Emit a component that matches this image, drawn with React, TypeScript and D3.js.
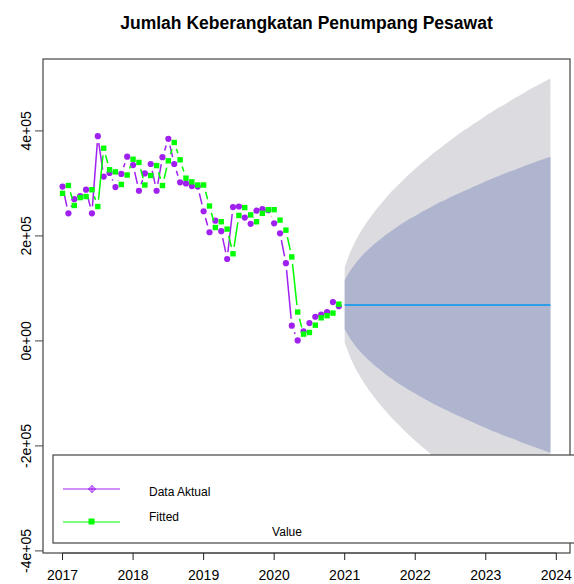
import React from "react";
import * as d3 from "d3";

// Monthly data, Jan 2017 - Dec 2020 (passengers)
const actual = [
  294000, 243000, 270000, 276000, 288000, 243000, 390000, 313000, 320000, 293000, 318000, 351000,
  335000, 286000, 319000, 337000, 286000, 350000, 385000, 337000, 302000, 300000, 295000, 294000,
  247000, 207000, 229000, 209000, 156000, 255000, 256000, 235000, 223000, 248000, 251000, 249000,
  224000, 205000, 148000, 29000, 1000, 18000, 34000, 46000, 50000, 55000, 74000, 66000,
];

const fitted = [
  281000, 296000, 258000, 273000, 275000, 288000, 256000, 367000, 326000, 322000, 298000, 316000,
  346000, 340000, 297000, 315000, 334000, 296000, 343000, 378000, 345000, 310000, 303000, 297000,
  297000, 257000, 216000, 227000, 213000, 166000, 239000, 254000, 240000, 227000, 243000, 250000,
  250000, 230000, 211000, 160000, 55000, 13000, 16000, 30000, 44000, 48000, 53000, 70000,
];

// Forecast Jan 2021 - Dec 2023 (bands in thousands)
const pointForecast = 68600;
const upper80 = [
  116, 135, 150, 163, 174, 184, 193, 202, 210, 218, 225, 232, 238, 245, 251, 257, 263, 268,
  274, 279, 284, 289, 294, 299, 304, 309, 313, 318, 322, 326, 331, 335, 339, 343, 347, 351,
];
const lower80 = [
  22, 3, -12, -25, -36, -46, -55, -64, -72, -80, -87, -94, -100, -107, -113, -119, -125, -130,
  -136, -141, -146, -151, -156, -161, -166, -171, -175, -180, -184, -188, -193, -197, -201, -205, -209, -213,
];
const upper95 = [
  141, 171, 194, 213, 230, 245, 259, 272, 285, 296, 307, 318, 328, 338, 347, 357, 365, 374,
  382, 391, 399, 406, 414, 421, 429, 436, 443, 449, 456, 463, 469, 476, 482, 488, 494, 500,
];
const lower95 = [
  -3, -33, -56, -75, -92, -107, -121, -134, -147, -158, -169, -180, -190, -200, -209, -219, -227, -236,
  -244, -253, -261, -268, -276, -283, -291, -298, -305, -311, -318, -325, -331, -338, -344, -350, -356, -362,
];

const yearTicks = [2017, 2018, 2019, 2020, 2021, 2022, 2023, 2024];
const valueTicks = [-400000, -200000, 0, 200000, 400000];
const valueTickLabels = ["-4e+05", "-2e+05", "0e+00", "2e+05", "4e+05"];

const W = 574;
const H = 584;
const box = { left: 43, right: 570, top: 59, bottom: 553 };

const x = d3.scaleLinear().domain([2016.723, 2024.194]).range([box.left, box.right]);
const y = d3.scaleLinear().domain([-404000, 537000]).range([box.bottom, box.top]);

const tActual = actual.map((_, i) => 2017 + i / 12);
const tFc = upper80.map((_, i) => 2021 + i / 12);

// R type="b": segments with a gap round each point
function gappedSegments(ts: number[], vs: number[], gap: number) {
  const segs: string[] = [];
  for (let i = 0; i < vs.length - 1; i++) {
    const x0 = x(ts[i]), y0 = y(vs[i]);
    const x1 = x(ts[i + 1]), y1 = y(vs[i + 1]);
    const len = Math.hypot(x1 - x0, y1 - y0);
    if (len <= 2 * gap) continue;
    const ux = (x1 - x0) / len, uy = (y1 - y0) / len;
    segs.push(`M${x0 + ux * gap},${y0 + uy * gap}L${x1 - ux * gap},${y1 - uy * gap}`);
  }
  return segs.join("");
}

function band(up: number[], lo: number[]) {
  const area = d3.area<number>()
    .x((_, i) => x(tFc[i]))
    .y0((_, i) => y(lo[i] * 1000))
    .y1((_, i) => y(up[i] * 1000));
  return area(up) || "";
}

const diamond = (cx: number, cy: number, r: number) =>
  `M${cx},${cy - r}L${cx + r},${cy}L${cx},${cy + r}L${cx - r},${cy}Z`;

const PURPLE = "#a020f0";
const GREEN = "#00ff00";
const font = "Liberation Sans, Arial, sans-serif";

export default function App() {
  const fcLine = d3.line<number>().x((_, i) => x(tFc[i])).y(() => y(pointForecast))(tFc) || "";

  return (
    <svg width={W} height={H} style={{ position: "absolute", left: 0, top: 0, background: "#fff" }} fontFamily={font}>
      <text x={(box.left + box.right) / 2} y={29} textAnchor="middle" fontSize={17.5} fontWeight="bold">
        Jumlah Keberangkatan Penumpang Pesawat
      </text>

      <path d={band(upper95, lower95)} fill="#dbdbe0" />
      <path d={band(upper80, lower80)} fill="#b0b5cf" />
      <path d={fcLine} stroke="#2e9ce6" strokeWidth={2} fill="none" />

      <path d={gappedSegments(tActual, actual, 7)} stroke={PURPLE} strokeWidth={1.5} fill="none" />
      {actual.map((v, i) => (
        <circle key={"a" + i} cx={x(tActual[i])} cy={y(v)} r={3.1} fill={PURPLE} />
      ))}
      <path d={gappedSegments(tActual, fitted, 7)} stroke={GREEN} strokeWidth={1.5} fill="none" />
      {fitted.map((v, i) => (
        <rect key={"f" + i} x={x(tActual[i]) - 2.7} y={y(v) - 2.7} width={5.4} height={5.4} fill={GREEN} />
      ))}

      <rect x={box.left} y={box.top} width={box.right - box.left} height={box.bottom - box.top}
        fill="none" stroke="#444" strokeWidth={1.2} />

      {/* legend */}
      <g>
        <rect x={53} y={455} width={560} height={88} fill="#fff" stroke="#444" strokeWidth={1.2} />
        <line x1={63} x2={120} y1={489} y2={489} stroke={PURPLE} strokeWidth={1.2} />
        <path d={diamond(92, 489, 3.5)} fill="none" stroke={PURPLE} strokeWidth={1} />
        <line x1={88.5} x2={95.5} y1={489} y2={489} stroke={PURPLE} strokeWidth={1} />
        <line x1={92} x2={92} y1={485.5} y2={492.5} stroke={PURPLE} strokeWidth={1} />
        <text x={149} y={496} fontSize={12}>Data Aktual</text>
        <line x1={63} x2={120} y1={522} y2={522} stroke={GREEN} strokeWidth={1.2} />
        <rect x={88.5} y={518.5} width={6} height={6} fill={GREEN} />
        <text x={149} y={521} fontSize={12}>Fitted</text>
        <text x={287} y={536} fontSize={12} textAnchor="middle">Value</text>
      </g>

      {/* x axis */}
      <g>
        <line x1={x(2017)} x2={x(2024)} y1={box.bottom} y2={box.bottom} stroke="#444" />
        {yearTicks.map((t) => (
          <g key={t}>
            <line x1={x(t)} x2={x(t)} y1={box.bottom} y2={box.bottom + 7} stroke="#222" />
            <text x={x(t)} y={580} textAnchor="middle" fontSize={14}>{t}</text>
          </g>
        ))}
      </g>

      {/* y axis */}
      <g>
        {valueTicks.map((v, i) => (
          <g key={v}>
            <line x1={box.left - 8} x2={box.left} y1={y(v)} y2={y(v)} stroke="#444" />
            <text transform={`translate(31,${y(v)}) rotate(-90)`} textAnchor="middle" fontSize={14}>
              {valueTickLabels[i]}
            </text>
          </g>
        ))}
      </g>
    </svg>
  );
}
